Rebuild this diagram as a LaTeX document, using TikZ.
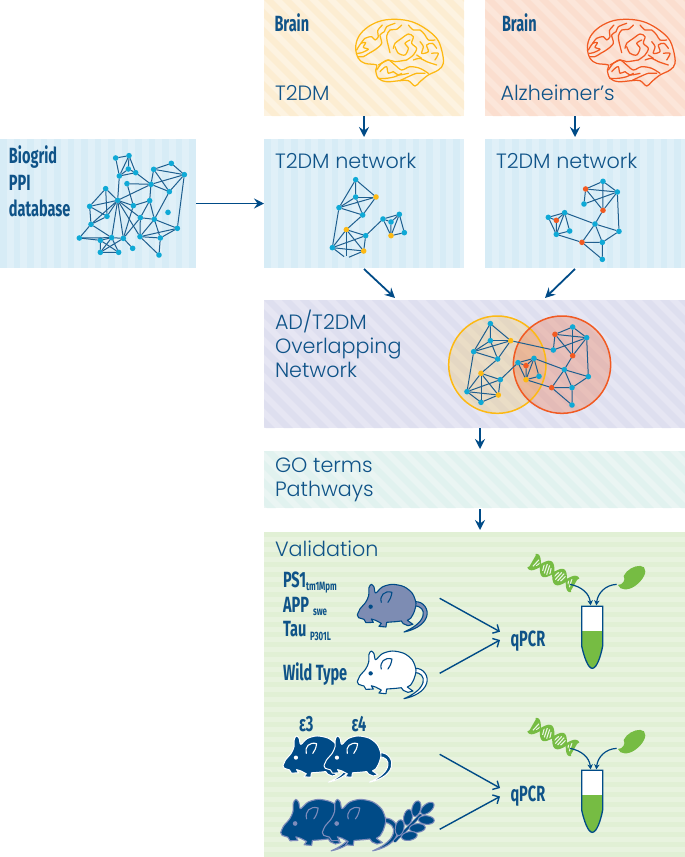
\documentclass[tikz,border=0pt]{standalone}
\usepackage{fontspec}
\setmainfont{Poppins Light}
\newfontfamily\condf{Fira Sans}[FakeStretch=0.66]
\usetikzlibrary{arrows.meta}
\definecolor{navy}{HTML}{004B87}
\definecolor{txtc}{HTML}{0F5388}
\definecolor{edgec}{HTML}{1F5F8F}
\definecolor{cy}{HTML}{0FA9D6}
\definecolor{ye}{HTML}{FDB913}
\definecolor{or}{HTML}{F15A22}
\definecolor{grn}{HTML}{76BC43}
\definecolor{mgrey}{HTML}{7D8CB3}
\definecolor{mpurp}{HTML}{7E8CBB}
\tikzset{
 x=1pt,y=-1pt,
 panelbox/.style={rectangle,inner sep=0pt,outer sep=0pt,anchor=north west,draw=none},
 lt/.style={anchor=base west,inner sep=0pt,outer sep=0pt,text=txtc,font=\fontsize{20.7}{24}\selectfont},
 bd/.style={anchor=base west,inner sep=0pt,outer sep=0pt,text=txtc,font=\condf\bfseries\fontsize{22}{24}\selectfont},
 sb/.style={anchor=base west,inner sep=0pt,outer sep=0pt,text=txtc,font=\condf\bfseries\fontsize{12}{12}\selectfont},
 dot/.style={circle,inner sep=0pt,outer sep=0pt,minimum size=5.6pt,draw=none},
 edge/.style={draw=edgec,line width=1pt},
 flow/.style={draw=navy,line width=1.8pt,-{Stealth[length=10pt,width=10pt,inset=3.5pt]}},
 barb/.style={draw=navy,line width=1.4pt,-{Straight Barb[length=5pt,width=10pt,line width=1.4pt]}},
 cur/.style={draw=navy,line width=1.2pt,-{Stealth[length=5pt,width=5.5pt,inset=1.5pt]}},
}
\newcommand{\panel}[8]{%
 \definecolor{pb}{HTML}{#6}\definecolor{ps}{HTML}{#7}%
 \node[panelbox,fill=pb,minimum width={(#4-#2)*1pt},minimum height={(#5-#3)*1pt}] (#1) at (#2,#3) {};
 \begin{scope}
 \clip (#2,#3) rectangle (#4,#5);
 \if#8v\foreach \k in {0,...,32}{\pgfmathsetmacro\xa{#2+\k*13.5}\fill[ps] (\xa,#3) rectangle ++(6.75,#5-#3);}\fi
 \if#8h\foreach \k in {0,...,34}{\pgfmathsetmacro\ya{#3+\k*10}\fill[ps] (#2,\ya) rectangle ++(#4-#2,5);}\fi
 \if#8d\foreach \k in {-9,...,26}{\pgfmathsetmacro\xa{#2+\k*18}\fill[ps] (\xa,#3) -- ++(9,0) -- ++(#5-#3,#5-#3) -- ++(-9,0) -- cycle;}\fi
 \end{scope}}
\newcommand{\net}[3]{%
 \foreach \n/\x/\y/\c in {#2}{\node[dot,fill=\c] (#1\n) at (\x,\y) {};}
 \foreach \a/\b in {#3}{\draw[edge] (#1\a) -- (#1\b);}}
\newcommand{\brain}[1]{%
 \begin{scope}[draw=#1,line width=1.25pt,line join=round,line cap=round]
 \draw plot[smooth cycle,tension=.6] coordinates {(32,112)(42,78)(70,50)(110,32)(155,28)(200,35)(240,55)(275,85)(290,120)(295,160)(280,180)(250,195)(225,215)(210,228)(190,212)(165,212)(125,215)(100,205)(92,180)(95,165)(60,160)(40,145)};
 \foreach \p in {{(35,120)(48,100)(62,98)(55,112)(70,118)(50,128)(38,130)},{(48,100)(60,85)(80,80)(90,90)(100,80)(98,62)(112,45)},{(40,140)(55,140)(72,130)(92,118)(110,100)(105,75)(118,65)(125,50)(150,40)},{(128,100)(125,78)(135,60)(155,58)(170,45)},{(128,100)(135,128)},{(145,115)(150,100)(170,85)(190,72)(205,80)(200,100)(215,115)(205,135)(185,150)},{(150,110)(160,130)(180,135)(190,115)(180,100)(195,90)},{(185,150)(150,155)(130,150)(100,165)},{(190,45)(205,60)(225,60)(240,75)(250,90)(270,90)},{(225,95)(235,110)(230,130)(250,125)(245,105)(262,100)(275,115)},{(260,130)(280,130)(270,150)},{(205,150)(225,145)(245,155)(275,165)},{(215,135)(230,145)},{(95,180)(110,160)(130,150)(150,165)(170,180)(195,170)(225,175)(250,190)},{(105,185)(115,175)(125,170)(130,190)(145,185)(160,195)(190,190)},{(100,205)(125,205)(150,200)(170,190)},{(165,212)(190,200)(215,190)(240,190)}}
 {\draw plot[smooth,tension=.5] coordinates \p;}
 \end{scope}}
% x y scale fill outline outlinewidth detail
\newcommand{\mouse}[7]{%
 \begin{scope}[shift={(#1,#2)},scale=#3/3,shift={(-280,-240)},line join=round]
 \draw[fill=#4,draw=#5,line width=#6] (452,200) .. controls (480,198) and (495,225) .. (488,245) .. controls (480,270) and (450,285) .. (420,291) .. controls (445,280) and (470,265) .. (477,243) .. controls (482,225) and (470,212) .. (450,212) -- cycle;
 \draw[fill=#4,draw=#5,line width=#6] plot[smooth,tension=.5] coordinates {(280,240)(288,222)(305,202)(314,182)(315,158)(322,148)(330,156)(335,174)(355,156)(385,148)(420,155)(445,175)(456,205)(450,232)(440,250)} -- (430,256) -- (447,268) -- (432,272) -- (418,266) -- (412,258) -- (395,260) -- (368,262) -- (366,276) -- (345,274) -- (352,265) -- (335,256) -- (322,252) -- (328,262) -- (306,263) -- (300,253) -- (284,248) -- cycle;
 \draw[draw=#7,line width=1.1pt,line cap=round] (352,202) .. controls (346,182) and (362,165) .. (384,172) .. controls (382,185) and (378,195) .. (372,202);
 \fill[#7] (320,215) circle[radius=6.5];
 \end{scope}}
\newcommand{\qpcrset}[3]{%
 \begin{scope}[shift={(#2,#3)},scale=1/3]
 % dna
 \begin{scope}[shift={(220,99)},rotate=-30]
 \fill[grn] plot[smooth,domain=-72:72,samples=50] (\x,{24*sin(\x*4)}) -- plot[smooth,domain=72:-72,samples=50] (\x,{-24*sin(\x*4)}) -- cycle;
 \foreach \t in {-60,-52,-34,-26,-18,-10,10,18,26,34,52,60}{\draw[white!85!grn,line width=1.1pt] (\t-3,{15*sin(\t*4)}) -- (\t+3,{-15*sin(\t*4)});}
 \draw[grn,line width=2.4pt] plot[smooth,domain=-74:74,samples=50] (\x,{24*sin(\x*4)});
 \draw[grn,line width=1.3pt] plot[smooth,domain=-74:74,samples=50] (\x,{-24*sin(\x*4)});
 \end{scope}
 \coordinate (#1dna) at (270,133);
 % enzyme
 \fill[grn] (440,95) .. controls (455,80) and (480,72) .. (492,82) .. controls (503,95) and (490,120) .. (465,138) .. controls (445,152) and (420,152) .. (414,135) .. controls (428,135) and (438,120) .. (431,108) .. controls (433,102) and (436,99) .. (440,95) -- cycle;
 \coordinate (#1enz) at (410,133);
 % tube
 \fill[white] (305,199) -- (368,199) -- (368,318) .. controls (362,350) and (350,385) .. (337,385) .. controls (324,385) and (312,350) .. (305,318) -- cycle;
 \fill[grn] (305,273) -- (368,273) -- (368,318) .. controls (362,350) and (350,385) .. (337,385) .. controls (324,385) and (312,350) .. (305,318) -- cycle;
 \draw[navy,line width=1.3pt] (305,199) -- (368,199) -- (368,318) .. controls (362,350) and (350,385) .. (337,385) .. controls (324,385) and (312,350) .. (305,318) -- cycle;
 \coordinate (#1ta) at (332,196);
 \coordinate (#1tb) at (349,196);
 \draw[cur] (#1dna) .. controls (305,140) and (328,160) .. (#1ta);
 \draw[cur] (#1enz) .. controls (375,135) and (353,160) .. (#1tb);
 \end{scope}}
\begin{document}
\begin{tikzpicture}
\useasboundingbox (0,0) rectangle (685,857);
% panels
\panel{brainA}{264}{0}{464}{116}{FDF3E1}{FCEDD2}{d}
\panel{brainB}{485}{0}{685}{116}{FCE6DA}{FBDECF}{d}
\panel{bio}{0}{139}{196}{268}{E0F0F8}{D7ECF6}{v}
\panel{netA}{264}{139}{464}{268}{E0F0F8}{D7ECF6}{v}
\panel{netB}{485}{139}{685}{268}{E0F0F8}{D7ECF6}{v}
\panel{over}{264}{300}{685}{428}{E6E6F3}{DEDFEF}{d}
\panel{goterm}{264}{451}{685}{508}{EAF5F3}{E1F2EF}{d}
\panel{valid}{264}{532}{685}{857}{E8F3DF}{E1F0D5}{h}
% text
\node[bd] (t1) at (274.5,31.5) {Brain};
\node[lt] (t2) at (275,100) {T2DM};
\node[bd] (t3) at (502,31.5) {Brain};
\node[lt] (t4) at (500.5,100) {Alzheimer’s};
\node[bd] (t5) at (9,163.5) {Biogrid};
\node[bd] (t6) at (9,190) {PPI};
\node[bd] (t7) at (9,216) {database};
\node[lt] (t8) at (275,168.7) {T2DM network};
\node[lt] (t9) at (496,168.7) {T2DM network};
\node[lt] (t10) at (275,329) {AD/T2DM};
\node[lt] (t11) at (275,353.3) {Overlapping};
\node[lt] (t12) at (275,377.3) {Network};
\node[lt] (t13) at (275,472.7) {GO terms};
\node[lt] (t14) at (275,496.7) {Pathways};
\node[lt] (t15) at (275,556.7) {Validation};
\node[bd] (t16) at (283,587.7) {PS1};
\node[sb] (t17) at (306,590) {tm1Mpm};
\node[bd] (t18) at (283,612.3) {APP};
\node[sb] (t19) at (313,615) {swe};
\node[bd] (t20) at (283,636.7) {Tau};
\node[sb] (t21) at (310,640) {P301L};
\node[bd] (t22) at (283,680) {Wild Type};
\node[bd] (t23) at (299,731.7) {ε3};
\node[bd] (t24) at (351.5,731.7) {ε4};
\node[bd] (qa) at (510.5,646) {qPCR};
\node[bd] (qb) at (510.5,801) {qPCR};
% brains
\begin{scope}[shift={(345,10)},scale=1/3]\brain{ye}\end{scope}
\begin{scope}[shift={(576.7,10)},scale=1/3]\brain{or}\end{scope}
% biogrid network
\begin{scope}[shift={(0,130)},scale=1/3]
\net{b}{a/347/84/cy,b/387/77/cy,c/385/117/cy,d/407/128/cy,e/358/138/cy,f/381/161/cy,g/453/163/cy,h/461/118/cy,i/514/100/cy,j/553/134/cy,k/508/185/cy,l/317/176/cy,m/353/211/cy,n/269/229/cy,o/321/259/cy,p/273/283/cy,q/238/324/cy,r/301/331/cy,s/335/323/cy,t/370/325/cy,u/398/355/cy,v/301/367/cy,w/356/367/cy,x/400/227/cy,y/449/212/cy,z/504/247/cy,aa/421/263/cy,ab/463/268/cy,ac/532/295/cy,ad/420/320/cy,ae/481/324/cy,af/477/375/cy}
{a/b,a/e,b/e,b/c,b/d,e/c,e/d,c/d,e/m,d/g,f/g,f/x,g/m,g/h,h/i,h/j,i/j,h/k,g/k,k/j,j/g,j/ac,g/y,y/x,x/m,m/l,l/n,l/o,n/m,n/o,n/p,o/p,m/o,m/p,p/q,p/s,q/r,q/s,r/s,r/v,r/w,s/v,s/w,t/v,t/m,s/m,t/x,t/u,t/s,v/w,m/aa,aa/y,y/ab,aa/ab,k/ab,ab/ad,ab/ae,ab/ac,ad/ac,ad/ae,ad/af,ae/af,ae/ac,m/ad,aa/ad,t/aa}
\end{scope}
% left network
\begin{scope}[shift={(264,138)},scale=1/3]
\net{l}{a/275/125/cy,b/336/177/ye,c/275/177/cy,d/225/209/cy,e/296/231/cy,f/247/275/ye,g/305/293/cy,h/205/329/cy,i/299/339/ye,j/247/361/none,k/357/243/cy,l/406/229/cy,m/381/252/cy,n/381/293/ye,o/421/284/cy}
{a/b,a/c,a/d,c/b,c/d,c/e,d/b,d/e,b/e,d/h,e/f,f/h,f/i,f/j,f/g,h/g,h/i,g/i,h/j,j/i,g/k,k/l,k/m,k/n,l/m,l/n,l/o,m/n,n/o}
\net{r}{a/965/153/or,b/1017/130/cy,c/1060/162/cy,d/960/198/cy,e/1017/217/or,f/902/224/cy,g/853/238/cy,h/877/247/or,i/917/279/cy,j/877/289/cy,k/993/258/cy,l/1065/280/cy,m/954/313/or,n/1015/313/cy,o/1015/364/cy}
{a/b,a/c,b/c,a/d,a/e,b/e,c/e,c/d,c/l,e/k,f/g,f/h,f/i,f/j,g/h,g/j,h/j,i/j,f/k,j/m,k/l,k/m,k/n,l/n,m/n,m/o,n/o}
\end{scope}
% overlap
\begin{scope}[shift={(430,300)},scale=1/3]
\fill[ye,opacity=.2] (202,194) circle[radius=146];
\fill[or,opacity=.27] (396,194) circle[radius=146];
\draw[ye,line width=1.5pt] (202,194) circle[radius=146];
\draw[or,line width=1.5pt] (396,194) circle[radius=146];
\net{o}{a/181/71/cy,b/242/122/ye,c/181/122/cy,d/131/155/cy,e/203/177/cy,f/153/220/ye,g/211/239/cy,h/111/275/cy,i/205/285/ye,j/153/307/cy,p/375/103/or,q/428/81/cy,r/470/113/cy,s/370/150/cy,t/428/167/or,u/312/175/cy,v/264/188/cy,w/288/197/or,x/327/229/cy,y/288/239/ye,z/403/209/cy,aa/475/230/cy,ab/365/263/or,ac/426/263/cy,ad/426/315/cy}
{a/b,a/c,a/d,c/b,c/d,c/e,d/b,d/e,b/e,b/s,d/h,e/f,f/h,f/i,f/j,f/g,h/g,h/i,g/i,h/j,j/i,g/v,p/q,p/r,q/r,p/s,p/t,q/t,r/t,r/s,r/aa,t/z,u/v,u/w,u/x,u/y,v/w,v/y,w/y,x/y,u/z,y/ab,z/aa,z/ab,z/ac,aa/ac,ab/ac,ab/ad,ac/ad}
\end{scope}
% flow arrows
\coordinate (a1) at (575,116);\coordinate (a2) at (575,137);
\coordinate (a3) at (364,269);\coordinate (a4) at (395,298);
\coordinate (a5) at (575,269);\coordinate (a6) at (545,298);
\coordinate (a7) at (480,428);\coordinate (a8) at (480,449);
\coordinate (a9) at (480,509);\coordinate (a10) at (480,530);
\draw[flow] (bio.east) -- (netA.west);
\draw[flow] (brainA.south) -- ++(0,21);
\draw[flow] (a1) -- (a2);
\draw[flow] (a3) -- (a4);
\draw[flow] (a5) -- (a6);
\draw[flow] (a7) -- (a8);
\draw[flow] (a9) -- (a10);
% mice
\mouse{357.3}{615}{1}{mgrey}{navy}{1.1pt}{navy}
\mouse{357.3}{681.7}{1}{white}{navy}{1.1pt}{navy}
\mouse{283}{765.7}{.97}{navy}{white}{1pt}{white}
\mouse{324}{765.7}{.97}{navy}{white}{1pt}{white}
\mouse{280.7}{832.5}{1.08}{navy}{mpurp}{1.1pt}{mpurp}
\mouse{322.3}{832.5}{1.08}{navy}{mpurp}{1.1pt}{mpurp}
% wheat
\begin{scope}[shift={(264,700)},scale=1/3]
\draw[mpurp,line width=3.2pt,line cap=round] (392,424) -- (470,345);
\draw[navy,line width=1.8pt,line cap=round] (392,424) -- (470,345);
\foreach \x/\y/\r in {407/383/80,432/352/80,457/326/75,490/325/40,487/360/-5,460/384/5,436/408/10}
 {\draw[fill=navy,draw=mpurp,line width=1pt,rotate around={\r:(\x,\y)}] (\x,\y) ellipse[x radius=24,y radius=13];}
\end{scope}
% qPCR arrows
\coordinate (m1) at (439.7,598.3);\coordinate (m2) at (439.7,673.3);
\coordinate (q1) at (500,631.7);\coordinate (q2) at (500,640);
\coordinate (m3) at (439.7,754.3);\coordinate (m4) at (439.7,829.3);
\coordinate (q3) at (500,788);\coordinate (q4) at (500,796.5);
\draw[barb] (m1) -- (q1);
\draw[barb] (m2) -- (q2);
\draw[barb] (m3) -- (q3);
\draw[barb] (m4) -- (q4);
\qpcrset{u}{480}{540}
\qpcrset{v}{480}{704}
\end{tikzpicture}
\end{document}
